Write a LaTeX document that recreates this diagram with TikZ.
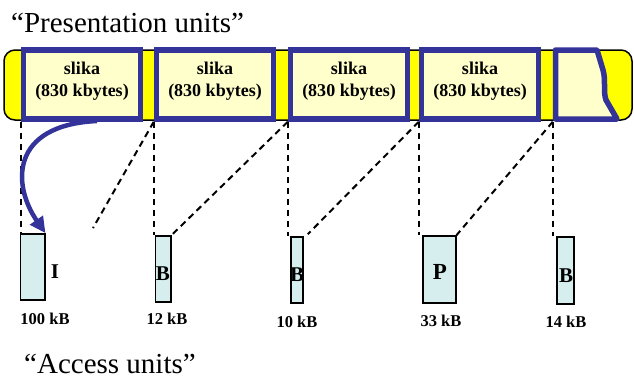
\documentclass[tikz,border=0pt]{standalone}
\usepackage{fontspec}
\setmainfont{Liberation Serif}
\usetikzlibrary{arrows.meta,calc}
\definecolor{bandyellow}{HTML}{FFFF00}
\definecolor{framefill}{HTML}{FFFFCC}
\definecolor{frameblue}{HTML}{333399}
\definecolor{aufill}{HTML}{D6EEEE}
\begin{document}
\begin{tikzpicture}[x=1pt,y=-1pt,
  frame/.style={draw=frameblue, fill=framefill, line width=5.5pt, minimum width=117pt, minimum height=69pt, inner sep=0pt},
  au/.style={draw=black, fill=aufill, line width=1.6pt, inner sep=0pt},
  flbl/.style={font=\bfseries\fontsize{18}{22}\selectfont, anchor=base, inner sep=0pt},
  slbl/.style={font=\bfseries\fontsize{16.5}{20}\selectfont, anchor=base, inner sep=0pt},
  tlbl/.style={font=\bfseries\fontsize{21}{24}\selectfont, anchor=base, inner sep=0pt},
  ttl/.style={font=\fontsize{29}{34}\selectfont, anchor=base west, inner sep=0pt},
  dline/.style={dash pattern=on 6.5pt off 4.5pt, line width=2pt},
  bluearrow/.style={draw=frameblue, line width=4.5pt, -{Triangle[length=16pt,width=15pt]}, fill=none},
]
\useasboundingbox (0,0) rectangle (634,378);

% titles
\node[ttl] (tp) at (11,32) {“Presentation units”};
\node[ttl] (ta) at (24,373) {“Access units”};

% yellow band
\draw[fill=bandyellow, draw=black, line width=1.5pt, rounded corners=11pt] (4,50) rectangle (632,120);

% frames
\node[frame] (f1) at (82,84.5) {};
\node[frame] (f2) at (215,84.5) {};
\node[frame] (f3) at (349,84.5) {};
\node[frame] (f4) at (480,84.5) {};
\draw[draw=frameblue, fill=framefill, line width=5.5pt, line join=round]
  (555.5,50) -- (597,50) -- (603,70) .. controls (606,80) and (603,92) .. (606,100) -- (617,119) -- (555.5,119) -- cycle;
\coordinate (f5) at (552.75,121.75);

\foreach \f in {f1,f2,f3,f4}{
  \node[flbl] (\f a) at ($(\f.center)+(0,-10.5)$) {slika};
  \node[flbl] (\f b) at ($(\f.center)+(0,11.5)$) {(830 kbytes)};
}

% access units
\node[au, minimum width=24.4pt, minimum height=66pt] (aI) at (32.5,267) {};
\node[au, minimum width=15.4pt, minimum height=66pt] (aB1) at (163,269) {};
\node[au, minimum width=12pt, minimum height=66pt] (aB2) at (297,270) {};
\node[au, minimum width=33pt, minimum height=67pt] (aP) at (439.2,269.5) {};
\node[au, minimum width=17pt, minimum height=67pt] (aB3) at (565.5,270.5) {};

\node[tlbl] (lI) at (55,278) {I};
\node[tlbl] (lB1) at (163,280) {B};
\node[tlbl] (lB2) at (297,281) {B};
\node[tlbl, font=\bfseries\fontsize{23}{26}\selectfont] (lP) at (440,279) {P};
\node[tlbl] (lB3) at (566,282) {B};

\node[slbl] (sI) at (45,324) {100 kB};
\node[slbl] (sB1) at (167,324) {12 kB};
\node[slbl] (sB2) at (297,327) {10 kB};
\node[slbl] (sP) at (441,326) {33 kB};
\node[slbl] (sB3) at (566,327) {14 kB};

% dashed connectors
\draw[dline] (f1.south west) -- (f1.south west |- aI.north);
\draw[dline] (f2.south west) -- (f2.south west |- aB1.north);
\draw[dline] (f3.south west) -- (f3.south west |- aB2.north);
\draw[dline] (f4.south west) -- (f4.south west |- aP.north);
\draw[dline] (f5) -- (f5 |- aB3.north);

\coordinate (free) at (93,228);
\draw[dline] (f2.south west) -- (free);
\draw[dline] (f3.south west) -- (aB1.north east);
\draw[dline] (f4.south west) -- ($(aB2.north east)+(4,-2)$);
\draw[dline] (f5) -- (aP.north east);

% blue arrow
\draw[bluearrow] (97,121) .. controls (10,125) and (12,185) .. (aI.north east);
\end{tikzpicture}
\end{document}
